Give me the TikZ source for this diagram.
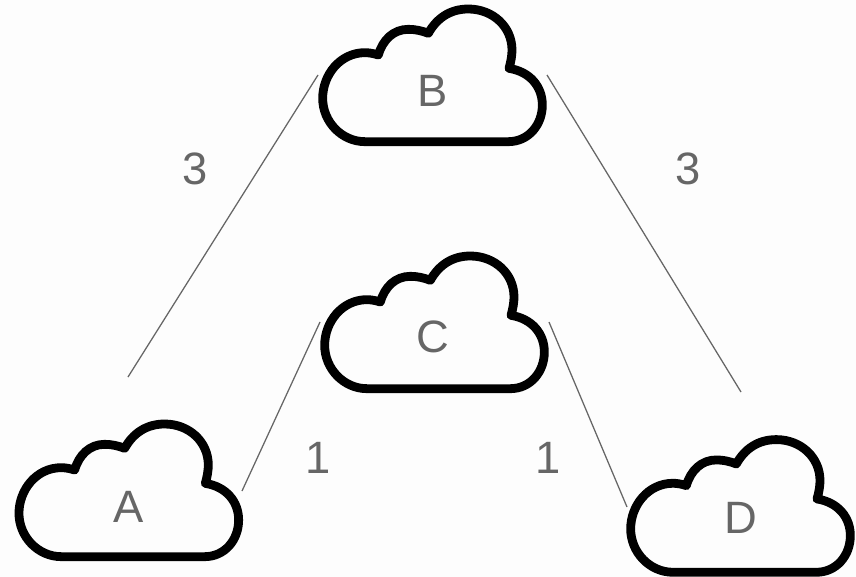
\documentclass[tikz,border=0pt]{standalone}
\usepackage{fontspec}
\setmainfont{Liberation Sans}
\definecolor{bg}{HTML}{FDFDFD}
\definecolor{ink}{HTML}{666666}
\tikzset{
  x=0.75pt,y=-0.75pt,
  cloudline/.style={line width=6.6pt,black,line join=round,line cap=round},
  lbl/.style={inner sep=0pt,text=ink,font=\fontsize{34}{40}\selectfont},
  link/.style={draw=ink,line width=0.95pt},
  pics/cloudshape/.style={code={
    \draw[cloudline,fill=none,x=0.25pt,y=-0.25pt]
      (165,425) -- (595,425) .. controls (655,425) and (697,375) .. (697,315)
      .. controls (697,260) and (660,215) .. (597,205)
      .. controls (603,185) and (606,165) .. (606,150)
      .. controls (606,80) and (548,27) .. (475,27)
      .. controls (420,27) and (380,55) .. (355,100)
      .. controls (335,92) and (315,88) .. (295,88)
      .. controls (250,88) and (218,120) .. (205,165)
      .. controls (190,160) and (175,158) .. (165,158)
      .. controls (90,158) and (38,225) .. (38,295)
      .. controls (38,365) and (95,425) .. (165,425) -- cycle;
  }}
}
\begin{document}
\begin{tikzpicture}
\path[fill=bg] (0,0) rectangle (856,577);
\useasboundingbox (0,0) rectangle (856,577);
\pic at (310,0) {cloudshape};
\pic at (312,247) {cloudshape};
\pic at (6.3,415) {cloudshape};
\pic at (618,430.6) {cloudshape};
\node[lbl] (B) at (433,91) {B};
\node[lbl] (C) at (433,337) {C};
\node[lbl] (A) at (129,507) {A};
\node[lbl] (D) at (741,518) {D};
\node[lbl] (l1) at (195,169) {3};
\node[lbl] (l2) at (688,169) {3};
\node[lbl] (l3) at (318,458) {1};
\node[lbl] (l4) at (548,458) {1};
\coordinate (a1) at (128,377);
\coordinate (b1) at (318,75);
\coordinate (b2) at (547,75);
\coordinate (d1) at (741,392);
\coordinate (a2) at (242,491);
\coordinate (c1) at (320,322);
\coordinate (c2) at (549,322);
\coordinate (d2) at (627,507);
\draw[link] (a1) -- (b1);
\draw[link] (b2) -- (d1);
\draw[link] (a2) -- (c1);
\draw[link] (c2) -- (d2);
\end{tikzpicture}
\end{document}
